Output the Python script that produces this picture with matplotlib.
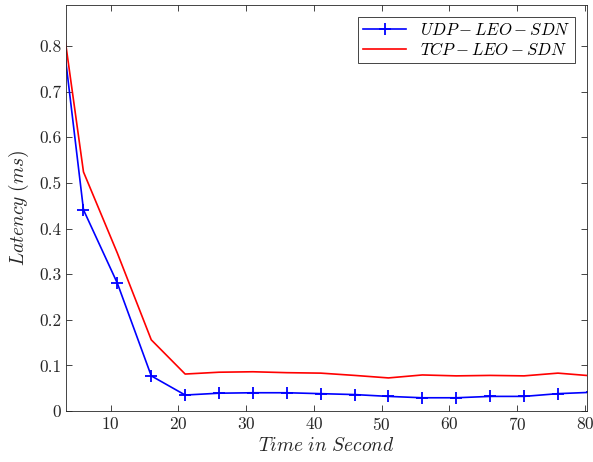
import numpy as np
import matplotlib
matplotlib.use('Agg')
import matplotlib.pyplot as plt

# latency over time
t = [1, 6, 11, 16, 21, 26, 31, 36, 41, 46, 51, 56, 61, 66, 71, 76, 81]
udp = [1.065, 0.441, 0.280, 0.077, 0.035, 0.039, 0.040, 0.040, 0.038, 0.036,
       0.032, 0.029, 0.029, 0.032, 0.032, 0.038, 0.041]
tcp = [1.059, 0.524, 0.346, 0.156, 0.081, 0.085, 0.086, 0.084, 0.083, 0.078,
       0.0725, 0.079, 0.077, 0.078, 0.077, 0.083, 0.077]
xticks = [10, 20, 30, 40, 50, 60, 70, 80]
yticks = [0, 0.1, 0.2, 0.3, 0.4, 0.5, 0.6, 0.7, 0.8]

plt.rcParams['font.family'] = 'serif'
plt.rcParams['font.serif'] = ['cmr10']
plt.rcParams['mathtext.fontset'] = 'cm'
plt.rcParams['axes.formatter.use_mathtext'] = True

fig = plt.figure(figsize=(5.93, 4.62), dpi=100)
ax = fig.add_axes([0.1113, 0.1104, 0.8781, 0.8788])

ax.plot(t, udp, color='#0000ff', lw=1.2, marker='+', ms=9, mew=1.3,
        label=r'$UDP-LEO-SDN$')
ax.plot(t, tcp, color='#ff0000', lw=1.2, label=r'$TCP-LEO-SDN$')

ax.set_xlim(3.42, 80.25)
ax.set_ylim(0, 0.89)
ax.set_xticks(xticks)
ax.set_yticks(yticks)
ax.set_yticklabels(['0', '0.1', '0.2', '0.3', '0.4', '0.5', '0.6', '0.7', '0.8'])
ax.tick_params(direction='in', top=True, right=True, labelsize=12.5,
               colors='#262626', length=4, width=0.6)
for s in ax.spines.values():
    s.set_color('#262626')
    s.set_linewidth(0.6)

ax.set_xlabel(r'$Time\ in\ Second$', fontsize=14, color='#262626', labelpad=3)
ax.set_ylabel(r'$Latency\ (ms)$', fontsize=14, color='#262626', labelpad=6)

leg = ax.legend(loc='upper right', fontsize=12, fancybox=False, framealpha=1,
                edgecolor='#262626', borderaxespad=0.7, handlelength=2.6,
                borderpad=0.3, labelspacing=0.2)
leg.get_frame().set_linewidth(0.6)

fig.savefig('out.png', dpi=100)
